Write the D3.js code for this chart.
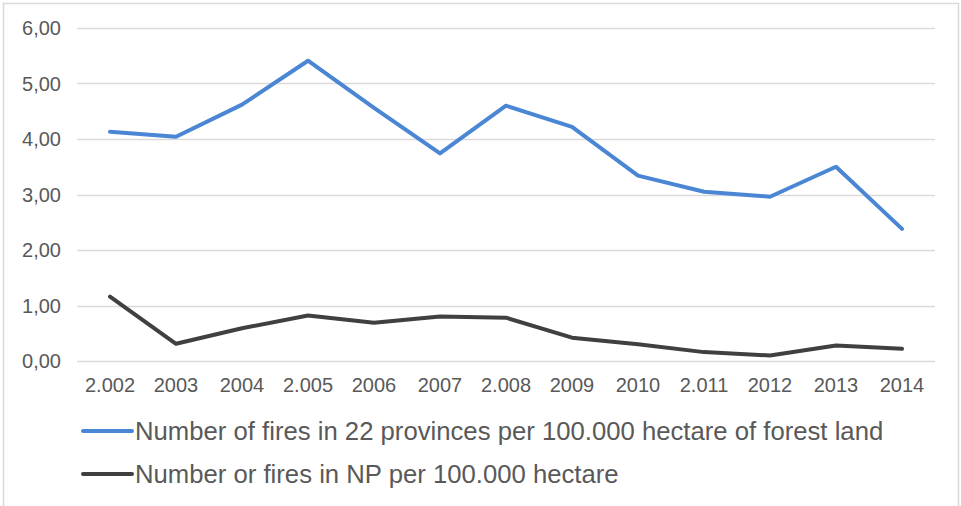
<!DOCTYPE html>
<html lang="en">
<head>
<meta charset="utf-8">
<title>Number of fires per 100.000 hectare</title>
<script src="https://d3js.org/d3.v7.min.js"></script>
<style>
  body { margin: 0; background: #fff; }
  svg text { font-family: "Liberation Sans", Arial, sans-serif; fill: #595959; }
</style>
</head>
<body>
<script>
// data
const years = ["2.002", "2003", "2004", "2.005", "2006", "2007", "2.008", "2009", "2010", "2.011", "2012", "2013", "2014"];
const provinces = [4.13, 4.04, 4.62, 5.41, 4.56, 3.74, 4.60, 4.22, 3.34, 3.05, 2.96, 3.50, 2.38];
const np = [1.16, 0.31, 0.59, 0.82, 0.69, 0.80, 0.78, 0.42, 0.30, 0.16, 0.10, 0.28, 0.22];
const yTicks = [0, 1, 2, 3, 4, 5, 6];
const seriesNames = [
  "Number of fires in 22 provinces per 100.000 hectare of forest land",
  "Number or fires in NP per 100.000 hectare"
];
const seriesColors = ["#4a86d4", "#404040"];

const width = 961, height = 506;
const svg = d3.select("body").append("svg")
  .attr("width", width).attr("height", height);

// outer chart border
svg.append("rect")
  .attr("x", 3.5).attr("y", 3.5)
  .attr("width", width - 6).attr("height", height)
  .attr("fill", "none").attr("stroke", "#d9d9d9").attr("stroke-width", 1.5);

const x = d3.scalePoint().domain(years).range([77, 935]).padding(0.5);
const y = d3.scaleLinear().domain([0, 6]).range([361, 28]);

// gridlines
svg.append("g").selectAll("line")
  .data(yTicks)
  .join("line")
  .attr("x1", 77).attr("x2", 935)
  .attr("y1", d => Math.round(y(d)) + 0.5).attr("y2", d => Math.round(y(d)) + 0.5)
  .attr("stroke", "#d9d9d9").attr("stroke-width", 1.3);

// y labels
svg.append("g").selectAll("text")
  .data(yTicks)
  .join("text")
  .attr("x", 61)
  .attr("y", d => y(d) + 7)
  .attr("text-anchor", "end")
  .attr("font-size", "20px")
  .text(d => d3.format(".2f")(d).replace(".", ","));

// x labels
svg.append("g").selectAll("text")
  .data(years)
  .join("text")
  .attr("x", d => x(d))
  .attr("y", 392)
  .attr("text-anchor", "middle")
  .attr("font-size", "20px")
  .text(d => d);

const line = d3.line().x((d, i) => x(years[i])).y(d => y(d));

[provinces, np].forEach((s, i) => {
  svg.append("path")
    .datum(s)
    .attr("d", line)
    .attr("fill", "none")
    .attr("stroke", seriesColors[i])
    .attr("stroke-width", 4)
    .attr("stroke-linejoin", "round")
    .attr("stroke-linecap", "round");
});

// legend
const leg = svg.append("g").selectAll("g")
  .data(seriesNames)
  .join("g")
  .attr("transform", (d, i) => `translate(83, ${431 + i * 43})`);

leg.append("line")
  .attr("x1", 0).attr("x2", 49)
  .attr("stroke", (d, i) => seriesColors[i])
  .attr("stroke-width", 4)
  .attr("stroke-linecap", "round");

leg.append("text")
  .attr("x", 52)
  .attr("y", 9)
  .attr("font-size", "25.7px")
  .text(d => d);
</script>
</body>
</html>
